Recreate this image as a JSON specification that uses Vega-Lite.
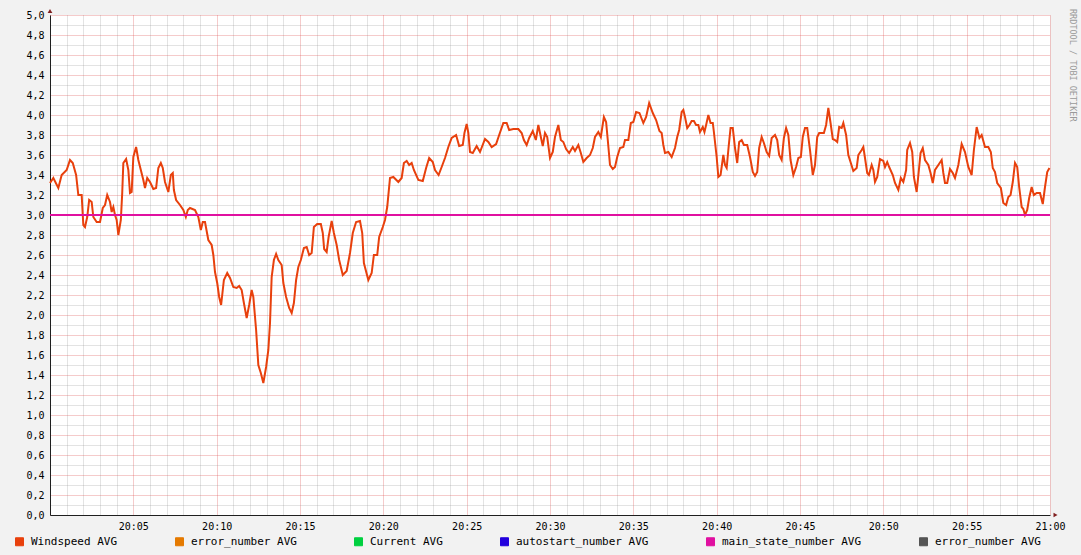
{
  "$schema": "https://vega.github.io/schema/vega-lite/v6.json",
  "width": 1000,
  "height": 500,
  "autosize": {"type": "none"},
  "padding": {"left": 50, "top": 15, "right": 31, "bottom": 40},
  "background": "#f2f2f2",
  "view": {"fill": "#ffffff", "stroke": null},
  "title": {"text": "RRDTOOL / TOBI OETIKER", "orient": "right", "anchor": "start", "font": "DejaVu Sans Mono", "fontSize": 8.5, "fontWeight": "normal", "color": "#9a9a9a", "offset": 3},
  "config": {"font": "DejaVu Sans Mono"},
  "layer": [
    {
      "data": {"values": [
{"t":"2024-01-01T20:00:00","v":3.32},{"t":"2024-01-01T20:00:12","v":3.37},{"t":"2024-01-01T20:00:30","v":3.27},{"t":"2024-01-01T20:00:42","v":3.40},{"t":"2024-01-01T20:01:00","v":3.45},{"t":"2024-01-01T20:01:12","v":3.55},{"t":"2024-01-01T20:01:22","v":3.52},{"t":"2024-01-01T20:01:34","v":3.40},{"t":"2024-01-01T20:01:42","v":3.20},{"t":"2024-01-01T20:01:54","v":3.20},
{"t":"2024-01-01T20:02:00","v":2.90},{"t":"2024-01-01T20:02:06","v":2.88},{"t":"2024-01-01T20:02:14","v":2.98},{"t":"2024-01-01T20:02:21","v":3.15},{"t":"2024-01-01T20:02:30","v":3.13},{"t":"2024-01-01T20:02:36","v":2.98},{"t":"2024-01-01T20:02:48","v":2.93},{"t":"2024-01-01T20:03:00","v":2.93},{"t":"2024-01-01T20:03:10","v":3.07},{"t":"2024-01-01T20:03:18","v":3.10},
{"t":"2024-01-01T20:03:26","v":3.20},{"t":"2024-01-01T20:03:36","v":3.13},{"t":"2024-01-01T20:03:42","v":3.03},{"t":"2024-01-01T20:03:48","v":3.08},{"t":"2024-01-01T20:03:54","v":3.00},{"t":"2024-01-01T20:04:00","v":2.95},{"t":"2024-01-01T20:04:06","v":2.80},{"t":"2024-01-01T20:04:15","v":2.95},{"t":"2024-01-01T20:04:20","v":3.22},{"t":"2024-01-01T20:04:24","v":3.52},
{"t":"2024-01-01T20:04:34","v":3.56},{"t":"2024-01-01T20:04:42","v":3.45},{"t":"2024-01-01T20:04:48","v":3.22},{"t":"2024-01-01T20:04:54","v":3.23},{"t":"2024-01-01T20:05:00","v":3.58},{"t":"2024-01-01T20:05:10","v":3.68},{"t":"2024-01-01T20:05:18","v":3.55},{"t":"2024-01-01T20:05:27","v":3.45},{"t":"2024-01-01T20:05:36","v":3.35},{"t":"2024-01-01T20:05:42","v":3.27},
{"t":"2024-01-01T20:05:50","v":3.37},{"t":"2024-01-01T20:06:00","v":3.33},{"t":"2024-01-01T20:06:12","v":3.26},{"t":"2024-01-01T20:06:22","v":3.27},{"t":"2024-01-01T20:06:30","v":3.47},{"t":"2024-01-01T20:06:39","v":3.52},{"t":"2024-01-01T20:06:46","v":3.47},{"t":"2024-01-01T20:06:54","v":3.33},{"t":"2024-01-01T20:07:06","v":3.23},{"t":"2024-01-01T20:07:15","v":3.40},
{"t":"2024-01-01T20:07:22","v":3.42},{"t":"2024-01-01T20:07:26","v":3.25},{"t":"2024-01-01T20:07:34","v":3.15},{"t":"2024-01-01T20:07:48","v":3.10},{"t":"2024-01-01T20:08:00","v":3.05},{"t":"2024-01-01T20:08:09","v":2.98},{"t":"2024-01-01T20:08:16","v":3.05},{"t":"2024-01-01T20:08:24","v":3.07},{"t":"2024-01-01T20:08:42","v":3.05},{"t":"2024-01-01T20:08:54","v":2.98},
{"t":"2024-01-01T20:09:03","v":2.85},{"t":"2024-01-01T20:09:10","v":2.93},{"t":"2024-01-01T20:09:18","v":2.93},{"t":"2024-01-01T20:09:30","v":2.75},{"t":"2024-01-01T20:09:42","v":2.70},{"t":"2024-01-01T20:09:48","v":2.60},{"t":"2024-01-01T20:09:54","v":2.43},{"t":"2024-01-01T20:10:02","v":2.32},{"t":"2024-01-01T20:10:09","v":2.18},{"t":"2024-01-01T20:10:16","v":2.10},
{"t":"2024-01-01T20:10:22","v":2.25},{"t":"2024-01-01T20:10:26","v":2.35},{"t":"2024-01-01T20:10:38","v":2.42},{"t":"2024-01-01T20:10:48","v":2.37},{"t":"2024-01-01T20:11:00","v":2.28},{"t":"2024-01-01T20:11:12","v":2.27},{"t":"2024-01-01T20:11:21","v":2.29},{"t":"2024-01-01T20:11:30","v":2.25},{"t":"2024-01-01T20:11:38","v":2.12},{"t":"2024-01-01T20:11:48","v":1.97},
{"t":"2024-01-01T20:11:57","v":2.10},{"t":"2024-01-01T20:12:06","v":2.25},{"t":"2024-01-01T20:12:12","v":2.18},{"t":"2024-01-01T20:12:22","v":1.85},{"t":"2024-01-01T20:12:30","v":1.50},{"t":"2024-01-01T20:12:39","v":1.42},{"t":"2024-01-01T20:12:48","v":1.32},{"t":"2024-01-01T20:12:58","v":1.48},{"t":"2024-01-01T20:13:06","v":1.65},{"t":"2024-01-01T20:13:12","v":1.92},
{"t":"2024-01-01T20:13:18","v":2.38},{"t":"2024-01-01T20:13:26","v":2.55},{"t":"2024-01-01T20:13:34","v":2.61},{"t":"2024-01-01T20:13:42","v":2.55},{"t":"2024-01-01T20:13:54","v":2.50},{"t":"2024-01-01T20:14:00","v":2.32},{"t":"2024-01-01T20:14:10","v":2.18},{"t":"2024-01-01T20:14:21","v":2.07},{"t":"2024-01-01T20:14:30","v":2.02},{"t":"2024-01-01T20:14:38","v":2.12},
{"t":"2024-01-01T20:14:46","v":2.35},{"t":"2024-01-01T20:14:54","v":2.48},{"t":"2024-01-01T20:15:03","v":2.55},{"t":"2024-01-01T20:15:14","v":2.67},{"t":"2024-01-01T20:15:24","v":2.68},{"t":"2024-01-01T20:15:33","v":2.60},{"t":"2024-01-01T20:15:42","v":2.62},{"t":"2024-01-01T20:15:50","v":2.88},{"t":"2024-01-01T20:16:02","v":2.91},{"t":"2024-01-01T20:16:15","v":2.91},
{"t":"2024-01-01T20:16:22","v":2.82},{"t":"2024-01-01T20:16:27","v":2.66},{"t":"2024-01-01T20:16:36","v":2.63},{"t":"2024-01-01T20:16:43","v":2.78},{"t":"2024-01-01T20:16:54","v":2.94},{"t":"2024-01-01T20:17:02","v":2.82},{"t":"2024-01-01T20:17:12","v":2.70},{"t":"2024-01-01T20:17:21","v":2.55},{"t":"2024-01-01T20:17:34","v":2.40},{"t":"2024-01-01T20:17:48","v":2.44},
{"t":"2024-01-01T20:18:00","v":2.62},{"t":"2024-01-01T20:18:10","v":2.82},{"t":"2024-01-01T20:18:22","v":2.93},{"t":"2024-01-01T20:18:36","v":2.94},{"t":"2024-01-01T20:18:44","v":2.82},{"t":"2024-01-01T20:18:50","v":2.52},{"t":"2024-01-01T20:19:06","v":2.35},{"t":"2024-01-01T20:19:18","v":2.42},{"t":"2024-01-01T20:19:26","v":2.60},{"t":"2024-01-01T20:19:38","v":2.60},
{"t":"2024-01-01T20:19:45","v":2.78},{"t":"2024-01-01T20:19:58","v":2.88},{"t":"2024-01-01T20:20:06","v":2.95},{"t":"2024-01-01T20:20:14","v":3.08},{"t":"2024-01-01T20:20:24","v":3.37},{"t":"2024-01-01T20:20:36","v":3.38},{"t":"2024-01-01T20:20:54","v":3.33},{"t":"2024-01-01T20:21:06","v":3.37},{"t":"2024-01-01T20:21:14","v":3.52},{"t":"2024-01-01T20:21:24","v":3.54},
{"t":"2024-01-01T20:21:33","v":3.50},{"t":"2024-01-01T20:21:42","v":3.52},{"t":"2024-01-01T20:21:50","v":3.45},{"t":"2024-01-01T20:22:06","v":3.35},{"t":"2024-01-01T20:22:22","v":3.34},{"t":"2024-01-01T20:22:34","v":3.47},{"t":"2024-01-01T20:22:45","v":3.57},{"t":"2024-01-01T20:22:58","v":3.53},{"t":"2024-01-01T20:23:06","v":3.45},{"t":"2024-01-01T20:23:19","v":3.40},
{"t":"2024-01-01T20:23:30","v":3.48},{"t":"2024-01-01T20:23:42","v":3.57},{"t":"2024-01-01T20:23:54","v":3.68},{"t":"2024-01-01T20:24:06","v":3.77},{"t":"2024-01-01T20:24:22","v":3.80},{"t":"2024-01-01T20:24:33","v":3.69},{"t":"2024-01-01T20:24:46","v":3.70},{"t":"2024-01-01T20:24:52","v":3.82},{"t":"2024-01-01T20:25:00","v":3.91},{"t":"2024-01-01T20:25:06","v":3.82},
{"t":"2024-01-01T20:25:12","v":3.63},{"t":"2024-01-01T20:25:22","v":3.62},{"t":"2024-01-01T20:25:36","v":3.69},{"t":"2024-01-01T20:25:48","v":3.63},{"t":"2024-01-01T20:26:06","v":3.76},{"t":"2024-01-01T20:26:18","v":3.73},{"t":"2024-01-01T20:26:30","v":3.68},{"t":"2024-01-01T20:26:46","v":3.71},{"t":"2024-01-01T20:26:57","v":3.80},{"t":"2024-01-01T20:27:12","v":3.92},
{"t":"2024-01-01T20:27:24","v":3.92},{"t":"2024-01-01T20:27:33","v":3.85},{"t":"2024-01-01T20:27:48","v":3.86},{"t":"2024-01-01T20:28:06","v":3.86},{"t":"2024-01-01T20:28:18","v":3.82},{"t":"2024-01-01T20:28:26","v":3.75},{"t":"2024-01-01T20:28:36","v":3.70},{"t":"2024-01-01T20:28:45","v":3.77},{"t":"2024-01-01T20:28:58","v":3.84},{"t":"2024-01-01T20:29:09","v":3.75},
{"t":"2024-01-01T20:29:18","v":3.90},{"t":"2024-01-01T20:29:27","v":3.78},{"t":"2024-01-01T20:29:34","v":3.69},{"t":"2024-01-01T20:29:42","v":3.82},{"t":"2024-01-01T20:29:50","v":3.78},{"t":"2024-01-01T20:30:00","v":3.57},{"t":"2024-01-01T20:30:10","v":3.63},{"t":"2024-01-01T20:30:18","v":3.78},{"t":"2024-01-01T20:30:30","v":3.90},{"t":"2024-01-01T20:30:39","v":3.75},
{"t":"2024-01-01T20:30:48","v":3.73},{"t":"2024-01-01T20:30:58","v":3.66},{"t":"2024-01-01T20:31:09","v":3.62},{"t":"2024-01-01T20:31:22","v":3.68},{"t":"2024-01-01T20:31:30","v":3.64},{"t":"2024-01-01T20:31:42","v":3.70},{"t":"2024-01-01T20:31:51","v":3.62},{"t":"2024-01-01T20:32:00","v":3.53},{"t":"2024-01-01T20:32:12","v":3.57},{"t":"2024-01-01T20:32:24","v":3.60},
{"t":"2024-01-01T20:32:34","v":3.67},{"t":"2024-01-01T20:32:42","v":3.78},{"t":"2024-01-01T20:32:54","v":3.83},{"t":"2024-01-01T20:33:03","v":3.78},{"t":"2024-01-01T20:33:14","v":3.98},{"t":"2024-01-01T20:33:22","v":3.93},{"t":"2024-01-01T20:33:28","v":3.75},{"t":"2024-01-01T20:33:36","v":3.50},{"t":"2024-01-01T20:33:46","v":3.46},{"t":"2024-01-01T20:33:54","v":3.48},
{"t":"2024-01-01T20:34:02","v":3.58},{"t":"2024-01-01T20:34:12","v":3.67},{"t":"2024-01-01T20:34:24","v":3.68},{"t":"2024-01-01T20:34:30","v":3.75},{"t":"2024-01-01T20:34:42","v":3.75},{"t":"2024-01-01T20:34:51","v":3.92},{"t":"2024-01-01T20:35:00","v":3.93},{"t":"2024-01-01T20:35:10","v":4.03},{"t":"2024-01-01T20:35:22","v":4.02},{"t":"2024-01-01T20:35:36","v":3.92},
{"t":"2024-01-01T20:35:46","v":3.98},{"t":"2024-01-01T20:35:57","v":4.12},{"t":"2024-01-01T20:36:10","v":4.02},{"t":"2024-01-01T20:36:22","v":3.95},{"t":"2024-01-01T20:36:34","v":3.84},{"t":"2024-01-01T20:36:42","v":3.82},{"t":"2024-01-01T20:36:48","v":3.70},{"t":"2024-01-01T20:36:54","v":3.62},{"t":"2024-01-01T20:37:06","v":3.63},{"t":"2024-01-01T20:37:18","v":3.58},
{"t":"2024-01-01T20:37:30","v":3.67},{"t":"2024-01-01T20:37:38","v":3.78},{"t":"2024-01-01T20:37:45","v":3.85},{"t":"2024-01-01T20:37:54","v":4.03},{"t":"2024-01-01T20:38:00","v":4.05},{"t":"2024-01-01T20:38:06","v":3.98},{"t":"2024-01-01T20:38:14","v":3.87},{"t":"2024-01-01T20:38:22","v":3.90},{"t":"2024-01-01T20:38:30","v":3.94},{"t":"2024-01-01T20:38:38","v":3.94},
{"t":"2024-01-01T20:38:46","v":3.90},{"t":"2024-01-01T20:38:54","v":3.90},{"t":"2024-01-01T20:39:00","v":3.83},{"t":"2024-01-01T20:39:10","v":3.88},{"t":"2024-01-01T20:39:16","v":3.83},{"t":"2024-01-01T20:39:22","v":3.90},{"t":"2024-01-01T20:39:30","v":4.00},{"t":"2024-01-01T20:39:38","v":3.92},{"t":"2024-01-01T20:39:46","v":3.92},{"t":"2024-01-01T20:39:50","v":3.83},
{"t":"2024-01-01T20:40:00","v":3.58},{"t":"2024-01-01T20:40:06","v":3.38},{"t":"2024-01-01T20:40:14","v":3.40},{"t":"2024-01-01T20:40:24","v":3.60},{"t":"2024-01-01T20:40:30","v":3.50},{"t":"2024-01-01T20:40:36","v":3.47},{"t":"2024-01-01T20:40:43","v":3.68},{"t":"2024-01-01T20:40:50","v":3.87},{"t":"2024-01-01T20:40:58","v":3.87},{"t":"2024-01-01T20:41:06","v":3.67},
{"t":"2024-01-01T20:41:14","v":3.52},{"t":"2024-01-01T20:41:21","v":3.73},{"t":"2024-01-01T20:41:30","v":3.75},{"t":"2024-01-01T20:41:38","v":3.70},{"t":"2024-01-01T20:41:50","v":3.70},{"t":"2024-01-01T20:42:00","v":3.58},{"t":"2024-01-01T20:42:10","v":3.43},{"t":"2024-01-01T20:42:18","v":3.39},{"t":"2024-01-01T20:42:26","v":3.43},{"t":"2024-01-01T20:42:33","v":3.67},
{"t":"2024-01-01T20:42:42","v":3.78},{"t":"2024-01-01T20:42:50","v":3.72},{"t":"2024-01-01T20:43:00","v":3.63},{"t":"2024-01-01T20:43:09","v":3.59},{"t":"2024-01-01T20:43:18","v":3.77},{"t":"2024-01-01T20:43:30","v":3.80},{"t":"2024-01-01T20:43:38","v":3.75},{"t":"2024-01-01T20:43:45","v":3.60},{"t":"2024-01-01T20:43:54","v":3.55},{"t":"2024-01-01T20:44:02","v":3.77},
{"t":"2024-01-01T20:44:10","v":3.87},{"t":"2024-01-01T20:44:18","v":3.80},{"t":"2024-01-01T20:44:26","v":3.55},{"t":"2024-01-01T20:44:36","v":3.40},{"t":"2024-01-01T20:44:46","v":3.48},{"t":"2024-01-01T20:44:54","v":3.57},{"t":"2024-01-01T20:45:03","v":3.58},{"t":"2024-01-01T20:45:10","v":3.78},{"t":"2024-01-01T20:45:18","v":3.87},{"t":"2024-01-01T20:45:26","v":3.87},
{"t":"2024-01-01T20:45:36","v":3.65},{"t":"2024-01-01T20:45:46","v":3.40},{"t":"2024-01-01T20:45:54","v":3.50},{"t":"2024-01-01T20:46:02","v":3.78},{"t":"2024-01-01T20:46:09","v":3.82},{"t":"2024-01-01T20:46:26","v":3.82},{"t":"2024-01-01T20:46:34","v":3.90},{"t":"2024-01-01T20:46:42","v":4.07},{"t":"2024-01-01T20:46:50","v":3.92},{"t":"2024-01-01T20:46:58","v":3.76},
{"t":"2024-01-01T20:47:06","v":3.75},{"t":"2024-01-01T20:47:14","v":3.73},{"t":"2024-01-01T20:47:21","v":3.88},{"t":"2024-01-01T20:47:30","v":3.87},{"t":"2024-01-01T20:47:36","v":3.92},{"t":"2024-01-01T20:47:46","v":3.80},{"t":"2024-01-01T20:47:54","v":3.60},{"t":"2024-01-01T20:48:03","v":3.52},{"t":"2024-01-01T20:48:12","v":3.44},{"t":"2024-01-01T20:48:24","v":3.47},
{"t":"2024-01-01T20:48:30","v":3.60},{"t":"2024-01-01T20:48:42","v":3.65},{"t":"2024-01-01T20:48:48","v":3.68},{"t":"2024-01-01T20:48:54","v":3.57},{"t":"2024-01-01T20:49:02","v":3.42},{"t":"2024-01-01T20:49:08","v":3.40},{"t":"2024-01-01T20:49:18","v":3.50},{"t":"2024-01-01T20:49:24","v":3.45},{"t":"2024-01-01T20:49:30","v":3.33},{"t":"2024-01-01T20:49:38","v":3.38},
{"t":"2024-01-01T20:49:48","v":3.56},{"t":"2024-01-01T20:50:00","v":3.54},{"t":"2024-01-01T20:50:06","v":3.48},{"t":"2024-01-01T20:50:14","v":3.53},{"t":"2024-01-01T20:50:21","v":3.48},{"t":"2024-01-01T20:50:34","v":3.40},{"t":"2024-01-01T20:50:42","v":3.32},{"t":"2024-01-01T20:50:54","v":3.25},{"t":"2024-01-01T20:51:03","v":3.37},{"t":"2024-01-01T20:51:12","v":3.33},
{"t":"2024-01-01T20:51:22","v":3.45},{"t":"2024-01-01T20:51:26","v":3.65},{"t":"2024-01-01T20:51:36","v":3.72},{"t":"2024-01-01T20:51:44","v":3.63},{"t":"2024-01-01T20:51:50","v":3.38},{"t":"2024-01-01T20:52:00","v":3.23},{"t":"2024-01-01T20:52:08","v":3.45},{"t":"2024-01-01T20:52:14","v":3.62},{"t":"2024-01-01T20:52:22","v":3.67},{"t":"2024-01-01T20:52:30","v":3.55},
{"t":"2024-01-01T20:52:42","v":3.50},{"t":"2024-01-01T20:52:50","v":3.42},{"t":"2024-01-01T20:52:58","v":3.32},{"t":"2024-01-01T20:53:06","v":3.45},{"t":"2024-01-01T20:53:18","v":3.50},{"t":"2024-01-01T20:53:30","v":3.55},{"t":"2024-01-01T20:53:36","v":3.42},{"t":"2024-01-01T20:53:42","v":3.32},{"t":"2024-01-01T20:53:50","v":3.32},{"t":"2024-01-01T20:54:00","v":3.46},
{"t":"2024-01-01T20:54:10","v":3.42},{"t":"2024-01-01T20:54:18","v":3.37},{"t":"2024-01-01T20:54:30","v":3.50},{"t":"2024-01-01T20:54:42","v":3.71},{"t":"2024-01-01T20:54:54","v":3.63},{"t":"2024-01-01T20:55:06","v":3.48},{"t":"2024-01-01T20:55:18","v":3.40},{"t":"2024-01-01T20:55:26","v":3.65},{"t":"2024-01-01T20:55:36","v":3.88},{"t":"2024-01-01T20:55:46","v":3.77},
{"t":"2024-01-01T20:55:54","v":3.80},{"t":"2024-01-01T20:56:06","v":3.68},{"t":"2024-01-01T20:56:18","v":3.68},{"t":"2024-01-01T20:56:27","v":3.63},{"t":"2024-01-01T20:56:34","v":3.47},{"t":"2024-01-01T20:56:42","v":3.43},{"t":"2024-01-01T20:56:50","v":3.32},{"t":"2024-01-01T20:57:03","v":3.27},{"t":"2024-01-01T20:57:12","v":3.12},{"t":"2024-01-01T20:57:22","v":3.10},
{"t":"2024-01-01T20:57:30","v":3.18},{"t":"2024-01-01T20:57:38","v":3.20},{"t":"2024-01-01T20:57:46","v":3.33},{"t":"2024-01-01T20:57:54","v":3.52},{"t":"2024-01-01T20:58:02","v":3.48},{"t":"2024-01-01T20:58:09","v":3.28},{"t":"2024-01-01T20:58:18","v":3.08},{"t":"2024-01-01T20:58:24","v":3.06},{"t":"2024-01-01T20:58:30","v":3.00},{"t":"2024-01-01T20:58:38","v":3.05},
{"t":"2024-01-01T20:58:45","v":3.17},{"t":"2024-01-01T20:58:54","v":3.28},{"t":"2024-01-01T20:59:02","v":3.20},{"t":"2024-01-01T20:59:12","v":3.22},{"t":"2024-01-01T20:59:24","v":3.22},{"t":"2024-01-01T20:59:34","v":3.11},{"t":"2024-01-01T20:59:42","v":3.28},{"t":"2024-01-01T20:59:50","v":3.43},{"t":"2024-01-01T20:59:58","v":3.47}
      ]},
      "mark": {"type": "line", "strokeWidth": 2, "interpolate": "linear"},
      "encoding": {
        "x": {
          "field": "t", "type": "temporal",
          "scale": {"domain": [{"year": 2024, "month": 1, "date": 1, "hours": 20, "minutes": 0}, {"year": 2024, "month": 1, "date": 1, "hours": 21, "minutes": 0}], "nice": false},
          "axis": {
            "orient": "bottom", "title": null, "tickCount": 200,
            "values": [
              {"year": 2024, "month": 1, "date": 1, "hours": 20, "minutes": 0}, {"year": 2024, "month": 1, "date": 1, "hours": 20, "minutes": 1}, {"year": 2024, "month": 1, "date": 1, "hours": 20, "minutes": 2}, {"year": 2024, "month": 1, "date": 1, "hours": 20, "minutes": 3}, {"year": 2024, "month": 1, "date": 1, "hours": 20, "minutes": 4},
              {"year": 2024, "month": 1, "date": 1, "hours": 20, "minutes": 5}, {"year": 2024, "month": 1, "date": 1, "hours": 20, "minutes": 6}, {"year": 2024, "month": 1, "date": 1, "hours": 20, "minutes": 7}, {"year": 2024, "month": 1, "date": 1, "hours": 20, "minutes": 8}, {"year": 2024, "month": 1, "date": 1, "hours": 20, "minutes": 9},
              {"year": 2024, "month": 1, "date": 1, "hours": 20, "minutes": 10}, {"year": 2024, "month": 1, "date": 1, "hours": 20, "minutes": 11}, {"year": 2024, "month": 1, "date": 1, "hours": 20, "minutes": 12}, {"year": 2024, "month": 1, "date": 1, "hours": 20, "minutes": 13}, {"year": 2024, "month": 1, "date": 1, "hours": 20, "minutes": 14},
              {"year": 2024, "month": 1, "date": 1, "hours": 20, "minutes": 15}, {"year": 2024, "month": 1, "date": 1, "hours": 20, "minutes": 16}, {"year": 2024, "month": 1, "date": 1, "hours": 20, "minutes": 17}, {"year": 2024, "month": 1, "date": 1, "hours": 20, "minutes": 18}, {"year": 2024, "month": 1, "date": 1, "hours": 20, "minutes": 19},
              {"year": 2024, "month": 1, "date": 1, "hours": 20, "minutes": 20}, {"year": 2024, "month": 1, "date": 1, "hours": 20, "minutes": 21}, {"year": 2024, "month": 1, "date": 1, "hours": 20, "minutes": 22}, {"year": 2024, "month": 1, "date": 1, "hours": 20, "minutes": 23}, {"year": 2024, "month": 1, "date": 1, "hours": 20, "minutes": 24},
              {"year": 2024, "month": 1, "date": 1, "hours": 20, "minutes": 25}, {"year": 2024, "month": 1, "date": 1, "hours": 20, "minutes": 26}, {"year": 2024, "month": 1, "date": 1, "hours": 20, "minutes": 27}, {"year": 2024, "month": 1, "date": 1, "hours": 20, "minutes": 28}, {"year": 2024, "month": 1, "date": 1, "hours": 20, "minutes": 29},
              {"year": 2024, "month": 1, "date": 1, "hours": 20, "minutes": 30}, {"year": 2024, "month": 1, "date": 1, "hours": 20, "minutes": 31}, {"year": 2024, "month": 1, "date": 1, "hours": 20, "minutes": 32}, {"year": 2024, "month": 1, "date": 1, "hours": 20, "minutes": 33}, {"year": 2024, "month": 1, "date": 1, "hours": 20, "minutes": 34},
              {"year": 2024, "month": 1, "date": 1, "hours": 20, "minutes": 35}, {"year": 2024, "month": 1, "date": 1, "hours": 20, "minutes": 36}, {"year": 2024, "month": 1, "date": 1, "hours": 20, "minutes": 37}, {"year": 2024, "month": 1, "date": 1, "hours": 20, "minutes": 38}, {"year": 2024, "month": 1, "date": 1, "hours": 20, "minutes": 39},
              {"year": 2024, "month": 1, "date": 1, "hours": 20, "minutes": 40}, {"year": 2024, "month": 1, "date": 1, "hours": 20, "minutes": 41}, {"year": 2024, "month": 1, "date": 1, "hours": 20, "minutes": 42}, {"year": 2024, "month": 1, "date": 1, "hours": 20, "minutes": 43}, {"year": 2024, "month": 1, "date": 1, "hours": 20, "minutes": 44},
              {"year": 2024, "month": 1, "date": 1, "hours": 20, "minutes": 45}, {"year": 2024, "month": 1, "date": 1, "hours": 20, "minutes": 46}, {"year": 2024, "month": 1, "date": 1, "hours": 20, "minutes": 47}, {"year": 2024, "month": 1, "date": 1, "hours": 20, "minutes": 48}, {"year": 2024, "month": 1, "date": 1, "hours": 20, "minutes": 49},
              {"year": 2024, "month": 1, "date": 1, "hours": 20, "minutes": 50}, {"year": 2024, "month": 1, "date": 1, "hours": 20, "minutes": 51}, {"year": 2024, "month": 1, "date": 1, "hours": 20, "minutes": 52}, {"year": 2024, "month": 1, "date": 1, "hours": 20, "minutes": 53}, {"year": 2024, "month": 1, "date": 1, "hours": 20, "minutes": 54},
              {"year": 2024, "month": 1, "date": 1, "hours": 20, "minutes": 55}, {"year": 2024, "month": 1, "date": 1, "hours": 20, "minutes": 56}, {"year": 2024, "month": 1, "date": 1, "hours": 20, "minutes": 57}, {"year": 2024, "month": 1, "date": 1, "hours": 20, "minutes": 58}, {"year": 2024, "month": 1, "date": 1, "hours": 20, "minutes": 59},
              {"year": 2024, "month": 1, "date": 1, "hours": 21, "minutes": 0}
            ],
            "labelExpr": "(minutes(datum.value) % 5 == 0 && !(hours(datum.value) == 20 && minutes(datum.value) == 0)) ? timeFormat(datum.value, '%H:%M') : ''",
            "labelFont": "DejaVu Sans Mono", "labelFontSize": 10, "labelColor": "#000000", "labelPadding": 6,
            "labelFlush": false, "labelOverlap": false, "labelBound": false,
            "grid": true, "gridDash": [1, 1], "gridWidth": 1,
            "gridColor": {"condition": {"test": "minutes(datum.value) % 5 == 0", "value": "#de5050"}, "value": "#8f8f8f"},
            "gridOpacity": {"condition": {"test": "minutes(datum.value) % 5 == 0", "value": 0.6}, "value": 0.5},
            "ticks": false, "domainColor": "#1f1f1f", "domainWidth": 1
          }
        },
        "y": {
          "field": "v", "type": "quantitative",
          "scale": {"domain": [0, 5], "nice": false, "zero": true},
          "axis": {
            "orient": "left", "title": null, "tickCount": 200,
            "values": [0, 0.1, 0.2, 0.3, 0.4, 0.5, 0.6, 0.7, 0.8, 0.9, 1, 1.1, 1.2, 1.3, 1.4, 1.5, 1.6, 1.7, 1.8, 1.9, 2, 2.1, 2.2, 2.3, 2.4, 2.5, 2.6, 2.7, 2.8, 2.9, 3, 3.1, 3.2, 3.3, 3.4, 3.5, 3.6, 3.7, 3.8, 3.9, 4, 4.1, 4.2, 4.3, 4.4, 4.5, 4.6, 4.7, 4.8, 4.9, 5],
            "labelExpr": "round(datum.value * 10) % 2 == 0 ? replace(format(datum.value, '.1f'), '.', ',') : ''",
            "labelFont": "DejaVu Sans Mono", "labelFontSize": 10, "labelColor": "#000000", "labelPadding": 6,
            "labelFlush": false, "labelOverlap": false, "labelBound": false,
            "grid": true, "gridDash": [1, 1], "gridWidth": 1,
            "gridColor": {"condition": {"test": "round(datum.value * 10) % 2 == 0", "value": "#de5050"}, "value": "#8f8f8f"},
            "gridOpacity": {"condition": {"test": "round(datum.value * 10) % 2 == 0", "value": 0.6}, "value": 0.5},
            "ticks": false, "domainColor": "#1f1f1f", "domainWidth": 1
          }
        },
        "color": {
          "datum": "Windspeed AVG",
          "scale": {
            "domain": ["Windspeed AVG", "error_number AVG", "Current AVG", "autostart_number AVG", "main_state_number AVG", "error_number AVG "],
            "range": ["#e8400c", "#e57a00", "#00d040", "#2200dd", "#e010a0", "#555555"]
          },
          "legend": {
            "orient": "none", "legendX": -36, "legendY": 521, "direction": "horizontal", "title": null,
            "symbolType": "square", "symbolSize": 64, "symbolStrokeWidth": 1,
            "labelFont": "DejaVu Sans Mono", "labelFontSize": 11, "labelColor": "#000000", "labelOffset": 6,
            "columnPadding": 55,
            "encode": {"symbols": {"update": {"fill": {"scale": "color", "field": "value"}, "stroke": {"value": "#000000"}, "strokeWidth": {"value": 1}, "opacity": {"value": 1}}}}
          }
        }
      }
    },
    {
      "data": {"values": [{"s": "main_state_number AVG", "v": 3}]},
      "mark": {"type": "rule", "strokeWidth": 2},
      "encoding": {
        "y": {"field": "v", "type": "quantitative", "title": null},
        "color": {"field": "s", "title": null}
      }
    },
    {
      "data": {"values": [{"a": "top"}]},
      "mark": {"type": "point", "shape": "triangle-up", "filled": true, "size": 22, "color": "#801f1f", "opacity": 1},
      "encoding": {
        "x": {"datum": {"year": 2024, "month": 1, "date": 1, "hours": 20, "minutes": 0}, "type": "temporal", "title": null},
        "y": {"datum": 5.04, "type": "quantitative", "title": null}
      }
    },
    {
      "data": {"values": [{"a": "right"}]},
      "mark": {"type": "point", "shape": "triangle-right", "filled": true, "size": 22, "color": "#801f1f", "opacity": 1},
      "encoding": {
        "x": {"datum": {"year": 2024, "month": 1, "date": 1, "hours": 21, "minutes": 0, "seconds": 20}, "type": "temporal", "title": null},
        "y": {"datum": 0, "type": "quantitative", "title": null}
      }
    }
  ]
}
